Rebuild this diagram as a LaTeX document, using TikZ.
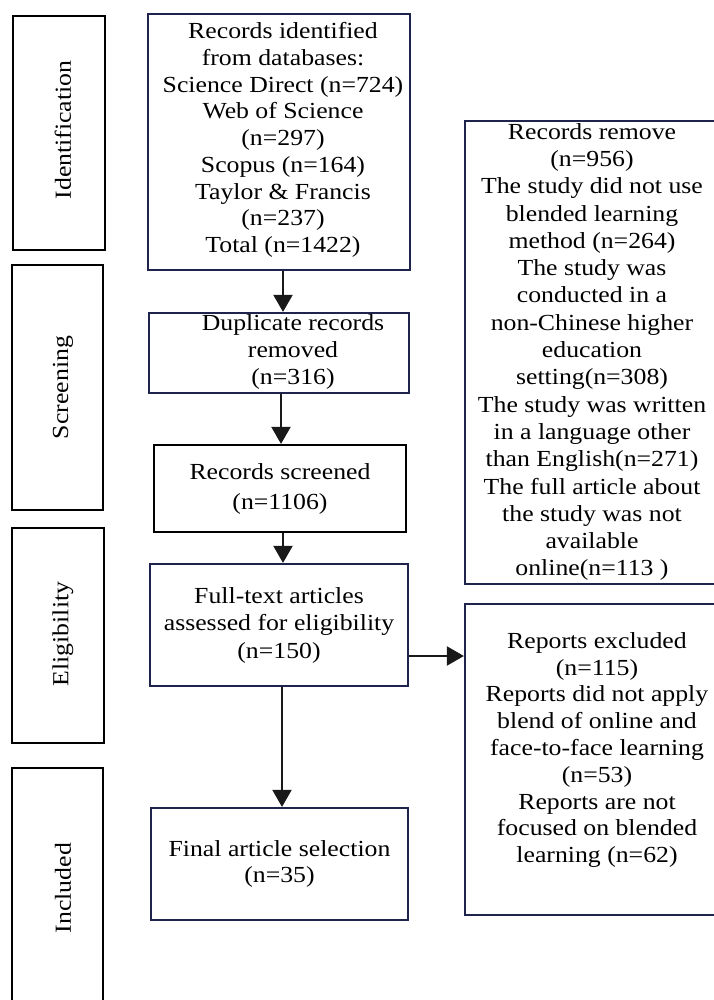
\documentclass[tikz,border=0pt]{standalone}
\usepackage{fontspec}
\setmainfont{Liberation Serif}[FakeStretch=1.12]
\usetikzlibrary{arrows.meta}
\definecolor{navy}{RGB}{31,36,77}
\begin{document}
\begin{tikzpicture}[x=1pt,y=-1pt,
  phase/.style={draw=black,line width=2.2pt,inner sep=0pt},
  mainbox/.style={draw=navy,line width=2.2pt,inner sep=0pt},
  blackbox/.style={draw=black,line width=2.2pt,inner sep=0pt},
  txt/.style={align=center,inner sep=0pt,font=\fontsize{23}{26.7}\selectfont},
  rtxt/.style={align=center,inner sep=0pt,font=\fontsize{23}{27.3}\selectfont},
  vlabel/.style={rotate=90,inner sep=0pt,font=\fontsize{23}{26.7}\selectfont},
  arr/.style={line width=2pt,draw=black!90,-{Triangle[width=19pt,length=17pt]}}]
\useasboundingbox (0,0) rectangle (713,1000);
% phase boxes
\node[phase,minimum width=92pt,minimum height=234pt] (idf) at (59,133) {};
\node[vlabel] (idft) at (63,130) {Identification};
\node[phase,minimum width=91pt,minimum height=245pt] (scr) at (57.5,387.5) {};
\node[vlabel] (scrt) at (63,387.5) {Screening};
\node[phase,minimum width=92pt,minimum height=215pt] (elg) at (58,635.5) {};
\node[vlabel] (elgt) at (63,634) {Eligibility};
\node[phase,minimum width=91pt,minimum height=240pt] (inc) at (57.5,888) {};
\node[vlabel] (inct) at (63,888) {Included};
% main column
\node[mainbox,minimum width=262pt,minimum height=256pt] (rid) at (279,142) {};
\node[txt] (ridt) at (283,140) {Records identified\\from databases:\\Science Direct (n=724)\\Web of Science\\(n=297)\\Scopus (n=164)\\Taylor \& Francis\\(n=237)\\Total (n=1422)};
\node[mainbox,minimum width=260pt,minimum height=80pt] (dup) at (279,353) {};
\node[txt] (dupt) at (293,352) {Duplicate records\\removed\\(n=316)};
\node[blackbox,minimum width=252pt,minimum height=87pt,align=center,inner sep=0pt,font=\fontsize{23}{30}\selectfont] (scb) at (280,488.5) {Records screened\\(n=1106)};
\node[mainbox,minimum width=258pt,minimum height=122pt,align=center,font=\fontsize{23}{27.5}\selectfont] (ft) at (279,625) {Full-text articles\\assessed for eligibility\\(n=150)};
\node[mainbox,minimum width=257pt,minimum height=112pt,align=center,font=\fontsize{23}{26.5}\selectfont] (fin) at (279.5,864) {Final article selection\\(n=35)};
% right column
\node[mainbox,minimum width=260pt,minimum height=463pt] (rem) at (595,352.5) {};
\node[rtxt] (remt) at (592,352) {Records remove\\(n=956)\\The study did not use\\blended learning\\method (n=264)\\The study was\\conducted in a\\non-Chinese higher\\education\\setting(n=308)\\The study was written\\in a language other\\than English(n=271)\\The full article about\\the study was not\\available\\online(n=113 )};
\node[mainbox,minimum width=260pt,minimum height=311pt] (rep) at (595,759.5) {};
\node[rtxt,font=\fontsize{23}{26.8}\selectfont] (rept) at (597,750) {Reports excluded\\(n=115)\\Reports did not apply\\blend of online and\\face-to-face learning\\(n=53)\\Reports are not\\focused on blended\\learning (n=62)};
% arrows
\draw[arr] ([xshift=4pt]rid.south) -- ([xshift=4pt]dup.north);
\draw[arr] ([xshift=2pt]dup.south) -- ([xshift=1pt]scb.north);
\draw[arr] ([xshift=3pt]scb.south) -- ([xshift=4pt]ft.north);
\draw[arr] ([xshift=3pt]ft.south) -- ([xshift=2.5pt]fin.north);
\coordinate (ftout) at ([yshift=-31pt]ft.east);
\draw[arr] (ftout) -- (ftout -| rep.west);
\end{tikzpicture}
\end{document}
